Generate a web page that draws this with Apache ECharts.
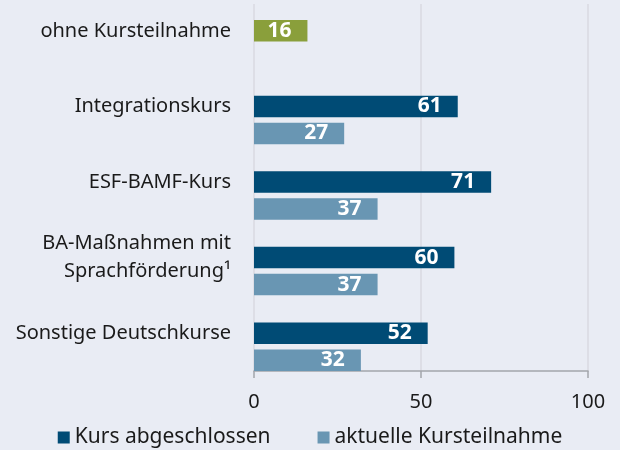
<!DOCTYPE html>
<html>
<head>
<meta charset="utf-8">
<script src="https://cdn.jsdelivr.net/npm/echarts@6/dist/echarts.min.js"></script>
<style>
  html, body { margin: 0; padding: 0; background: #e9ecf4; }
  #chart { width: 620px; height: 450px; }
</style>
</head>
<body>
<div id="chart"></div>
<script>
// Kategorien (von oben nach unten)
var categories = ['ohne Kursteilnahme', 'Integrationskurs', 'ESF-BAMF-Kurs', 'BA-Maßnahmen mit\nSprachförderung¹', 'Sonstige Deutschkurse'];
var abgeschlossen = [16, 61, 71, 60, 52];
var aktuell = [null, 27, 37, 37, 32];
var xTicks = [0, 50, 100];

var font = 'Noto Sans';
var dark = '#004b75';
var light = '#6996b3';
var green = '#8a9f3b';

var chart = echarts.init(document.getElementById('chart'));

var option = {
    backgroundColor: '#e9ecf4',
    textStyle: { fontFamily: font },
    legend: {
        bottom: -3,
        left: 'center',
        itemWidth: 12,
        itemHeight: 12,
        itemGap: 47,
        icon: 'rect',
        data: ['Kurs abgeschlossen', 'aktuelle Kursteilnahme'],
        textStyle: { fontFamily: font, fontSize: 21, color: '#1a1a1a' }
    },
    grid: [
        // Balken
        { left: 254, right: 32, top: -7, bottom: 79, outerBoundsMode: 'none', containLabel: false },
        // Achsen / Gitterlinien
        { left: 254, right: 32, top: 4, bottom: 79, outerBoundsMode: 'none', containLabel: false }
    ],
    xAxis: [
        { gridIndex: 0, type: 'value', min: 0, max: 100, interval: 50, show: false },
        {
            gridIndex: 1, type: 'value', min: xTicks[0], max: xTicks[xTicks.length - 1], interval: 50,
            axisLine: { show: true, lineStyle: { color: '#a3a5ab', width: 1.5 } },
            axisTick: { show: true, length: 7, lineStyle: { color: '#a3a5ab', width: 1.5 } },
            axisLabel: { fontFamily: font, fontSize: 20, color: '#1a1a1a', margin: 21 },
            splitLine: { show: true, lineStyle: { color: '#d8dae2', width: 1.5 } }
        }
    ],
    yAxis: [
        {
            gridIndex: 0, type: 'category', inverse: true, data: categories,
            axisLine: { show: false },
            axisTick: { show: false },
            axisLabel: { fontFamily: font, fontSize: 20, color: '#1a1a1a', margin: 23, lineHeight: 28, align: 'right' }
        },
        {
            gridIndex: 1, type: 'value', min: 0, max: 1,
            axisLine: { show: false },
            axisTick: { show: false },
            axisLabel: { show: false },
            splitLine: { show: false }
        }
    ],
    series: [
        {
            // Platzhalter, damit der dunkle Balken mittig auf der Kategorie sitzt
            name: 'leer', type: 'bar', xAxisIndex: 0, yAxisIndex: 0,
            data: categories.map(function () { return null; }),
            barWidth: 21.5, barGap: '25.6%', silent: true
        },
        {
            name: 'Kurs abgeschlossen', type: 'bar', xAxisIndex: 0, yAxisIndex: 0,
            data: abgeschlossen.map(function (v, i) {
                return i === 0 ? { value: v, itemStyle: { color: green } } : v;
            }),
            barWidth: 21.5, barGap: '25.6%',
            itemStyle: { color: dark },
            label: {
                show: true, position: 'insideRight', distance: 16,
                color: '#fff', fontFamily: font, fontSize: 21, fontWeight: 'bold'
            }
        },
        {
            name: 'aktuelle Kursteilnahme', type: 'bar', xAxisIndex: 0, yAxisIndex: 0,
            data: aktuell,
            barWidth: 21.5, barGap: '25.6%',
            itemStyle: { color: light },
            label: {
                show: true, position: 'insideRight', distance: 16,
                color: '#fff', fontFamily: font, fontSize: 21, fontWeight: 'bold'
            }
        }
    ]
};

chart.setOption(option);
</script>
</body>
</html>
